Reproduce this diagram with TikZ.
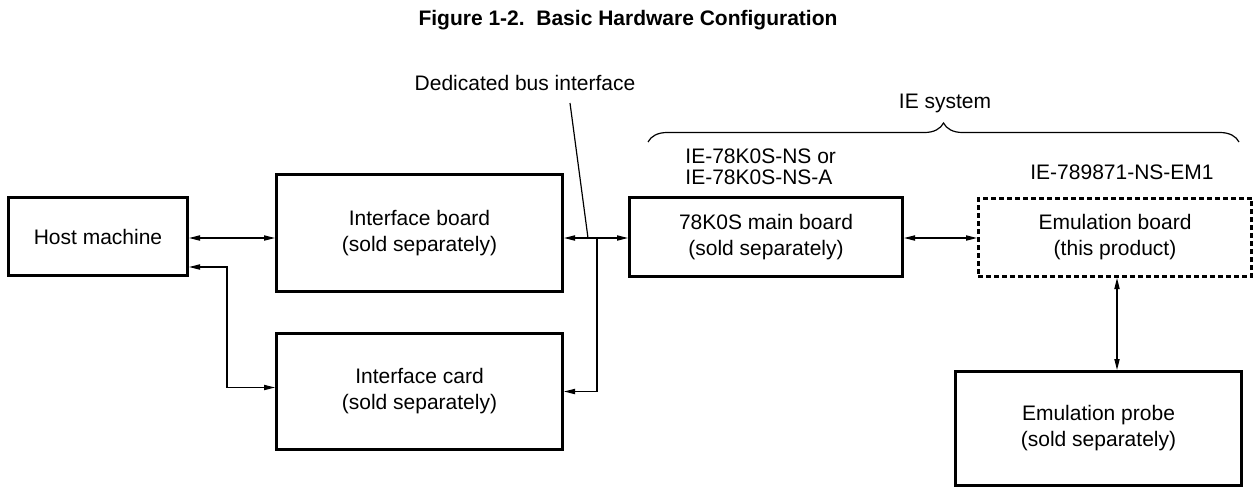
\documentclass[tikz,border=0pt]{standalone}
\usepackage{fontspec}
\setmainfont{Liberation Sans}
\usetikzlibrary{arrows.meta}
\usetikzlibrary{positioning, decorations.pathreplacing, calc}

\begin{document}
\begin{tikzpicture}[x=0.5pt, y=-0.5pt,
    every node/.style={inner sep=0pt, font=\fontsize{10.5pt}{13pt}\selectfont},
    unit/.style={draw, line width=1.3pt, align=center},
    link/.style={line width=0.6pt, {Triangle[length=5.5pt,width=2.6pt]}-{Triangle[length=5.5pt,width=2.6pt]}},
    tolink/.style={line width=0.6pt, -{Triangle[length=5.5pt,width=2.6pt]}}]
    \useasboundingbox (0,0) rectangle (1256,489);
    \node[font=\fontsize{10.5pt}{13pt}\bfseries] (title) at (628,20) {Figure 1-2.\ \ Basic Hardware Configuration};

    % Host side: machine, board and card
    \node[unit, minimum width=89.7pt, minimum height=39.2pt] (host) at (98,236.5) {Host machine};
    \node[unit, minimum width=143.2pt, minimum height=58.7pt] (ifboard) at (419.5,233) {Interface board\\(sold separately)};
    \node[unit, minimum width=143.2pt, minimum height=58.2pt] (ifcard) at (419.5,391.5) {Interface card\\(sold separately)};

    % IE system
    \node[unit, minimum width=136.7pt, minimum height=39.7pt] (mainbd) at (766,237) {78K0S main board\\(sold separately)};
    \node[unit, dash pattern=on 2.5pt off 1.5pt, minimum width=136.7pt, minimum height=39.2pt] (emubd) at (1115,237.5) {Emulation board\\(this product)};
    \node[unit, minimum width=143.2pt, minimum height=57.2pt] (probe) at (1098.5,428.5) {Emulation probe\\(sold separately)};

    % Labels
    \node (buslbl) at (525,83) {Dedicated bus interface};
    \node[align=left, anchor=west, font=\fontsize{10.5pt}{10.5pt}\selectfont] (mainlbl) at (685,166.5) {IE-78K0S-NS or\\IE-78K0S-NS-A};
    \node (emulbl) at (1122,172) {IE-789871-NS-EM1};
    \node (ielbl) at (945,103) {IE system};

    \coordinate (bus) at (597,238);
    \coordinate (tap) at (588,238);
    \coordinate (lead) at (570,103);

    % Connections
    \draw[link] (host.east |- bus) -- (ifboard.west |- bus);
    \draw[link] ([yshift=5pt]host.south east) -- ++(38,0) |- ([yshift=2pt]ifcard.west);
    \draw[link] (ifboard.east |- bus) -- (mainbd.west |- bus);
    \draw[tolink] (bus) |- (ifcard.east);
    \draw[line width=0.6pt] (lead) -- (tap);
    \draw[link] (mainbd.east |- bus) -- (emubd.west |- bus);
    \draw[link] ([xshift=1pt]emubd.south) -- ([xshift=1pt]emubd.south |- probe.north);

    % Brace over the IE system
    \draw[line width=0.6pt, decorate, decoration={brace, amplitude=9.5pt}] (648,142) -- (1239,142);
\end{tikzpicture}
\end{document}
